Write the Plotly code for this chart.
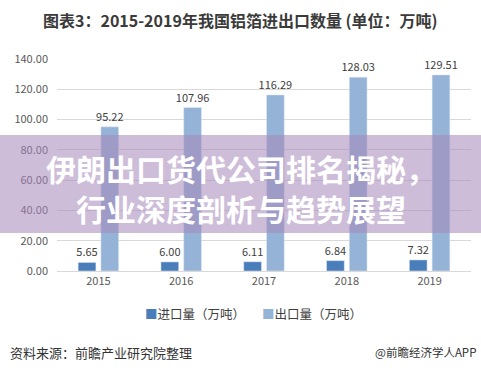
import plotly.graph_objects as go

years = ["2015", "2016", "2017", "2018", "2019"]
imports = [5.65, 6.00, 6.11, 6.84, 7.32]
exports = [95.22, 107.96, 116.29, 128.03, 129.51]
y_ticks = [0, 20, 40, 60, 80, 100, 120, 140]
series_names = ["进口量（万吨）", "出口量（万吨）"]
colors = ["#4A7EBB", "#95B3D7"]

W, H = 481, 370
L, R, T, B = 57, 10, 59, 99
ph = H - T - B
def py(pix):
    return (H - B - pix) / ph
def px(pix):
    return (pix - L) / (W - L - R)

font_cn = "Noto Sans CJK SC"
fig = go.Figure()
for vals, name, col in zip([imports, exports], series_names, colors):
    fig.add_bar(x=years, y=vals, name=name, marker_color=col,
                text=[f"{v:.2f}" for v in vals], textposition="outside",
                constraintext="none", hoverinfo="skip",
                textfont=dict(size=11, color="#404040"), cliponaxis=False)

fig.update_layout(
    width=W, height=H, margin=dict(l=L, r=R, t=T, b=B, autoexpand=False),
    paper_bgcolor="white", plot_bgcolor="white",
    barmode="group", bargap=0.45, bargroupgap=0.22,
    font=dict(family=font_cn, color="#595959", size=11),
    showlegend=False,
    xaxis=dict(showgrid=False, showline=True, linecolor="#d9d9d9", ticks="", automargin=False,
               tickfont=dict(size=11, color="#595959"), fixedrange=True),
    yaxis=dict(range=[0, 140], tickvals=y_ticks, tickformat=".2f", showgrid=True, automargin=False,
               gridcolor="#d9d9d9", zeroline=False, showline=False, fixedrange=True,
               tickfont=dict(size=11, color="#595959"), ticklabelstandoff=8),
)

fig.add_annotation(text="<b>图表3：2015-2019年我国铝箔进出口数量 (单位：万吨)</b>",
                   xref="paper", yref="paper", x=px(240), y=py(20), xanchor="center", yanchor="middle",
                   showarrow=False, font=dict(size=16, color="#3a3a3a", family=font_cn))

fig.add_shape(type="rect", xref="paper", yref="paper", x0=px(-5), x1=px(490),
              y0=py(233), y1=py(135), fillcolor="rgba(165,135,185,0.55)", line_width=0, layer="above")

fig.add_annotation(text="<b>伊朗出口货代公司排名揭秘，</b>", xref="paper", yref="paper",
                   x=px(241), y=py(168), xanchor="center", yanchor="middle", showarrow=False,
                   font=dict(size=30, color="white", family=font_cn))
fig.add_annotation(text="<b>行业深度剖析与趋势展望</b>", xref="paper", yref="paper",
                   x=px(241), y=py(208), xanchor="center", yanchor="middle", showarrow=False,
                   font=dict(size=30, color="white", family=font_cn))

# legend drawn as text items
for name, col, xl in zip(series_names, colors, [143, 260]):
    fig.add_annotation(text=f'<span style="color:{col}">■</span>{name}', xref="paper", yref="paper",
                       x=px(xl), y=py(313), xanchor="left", yanchor="middle", showarrow=False,
                       font=dict(size=12.5, color="#404040", family=font_cn))

fig.add_annotation(text="资料来源：前瞻产业研究院整理", xref="paper", yref="paper",
                   x=px(8), y=py(352), xanchor="left", yanchor="middle", showarrow=False,
                   font=dict(size=13, color="#333333", family=font_cn))
fig.add_annotation(text="@前瞻经济学人APP", xref="paper", yref="paper",
                   x=px(478), y=py(352), xanchor="right", yanchor="middle", showarrow=False,
                   font=dict(size=11.5, color="#333333", family=font_cn))

fig.write_html("out.html", config={"displayModeBar": False},
               post_script="document.body.style.margin='0';document.body.style.padding='0';")
